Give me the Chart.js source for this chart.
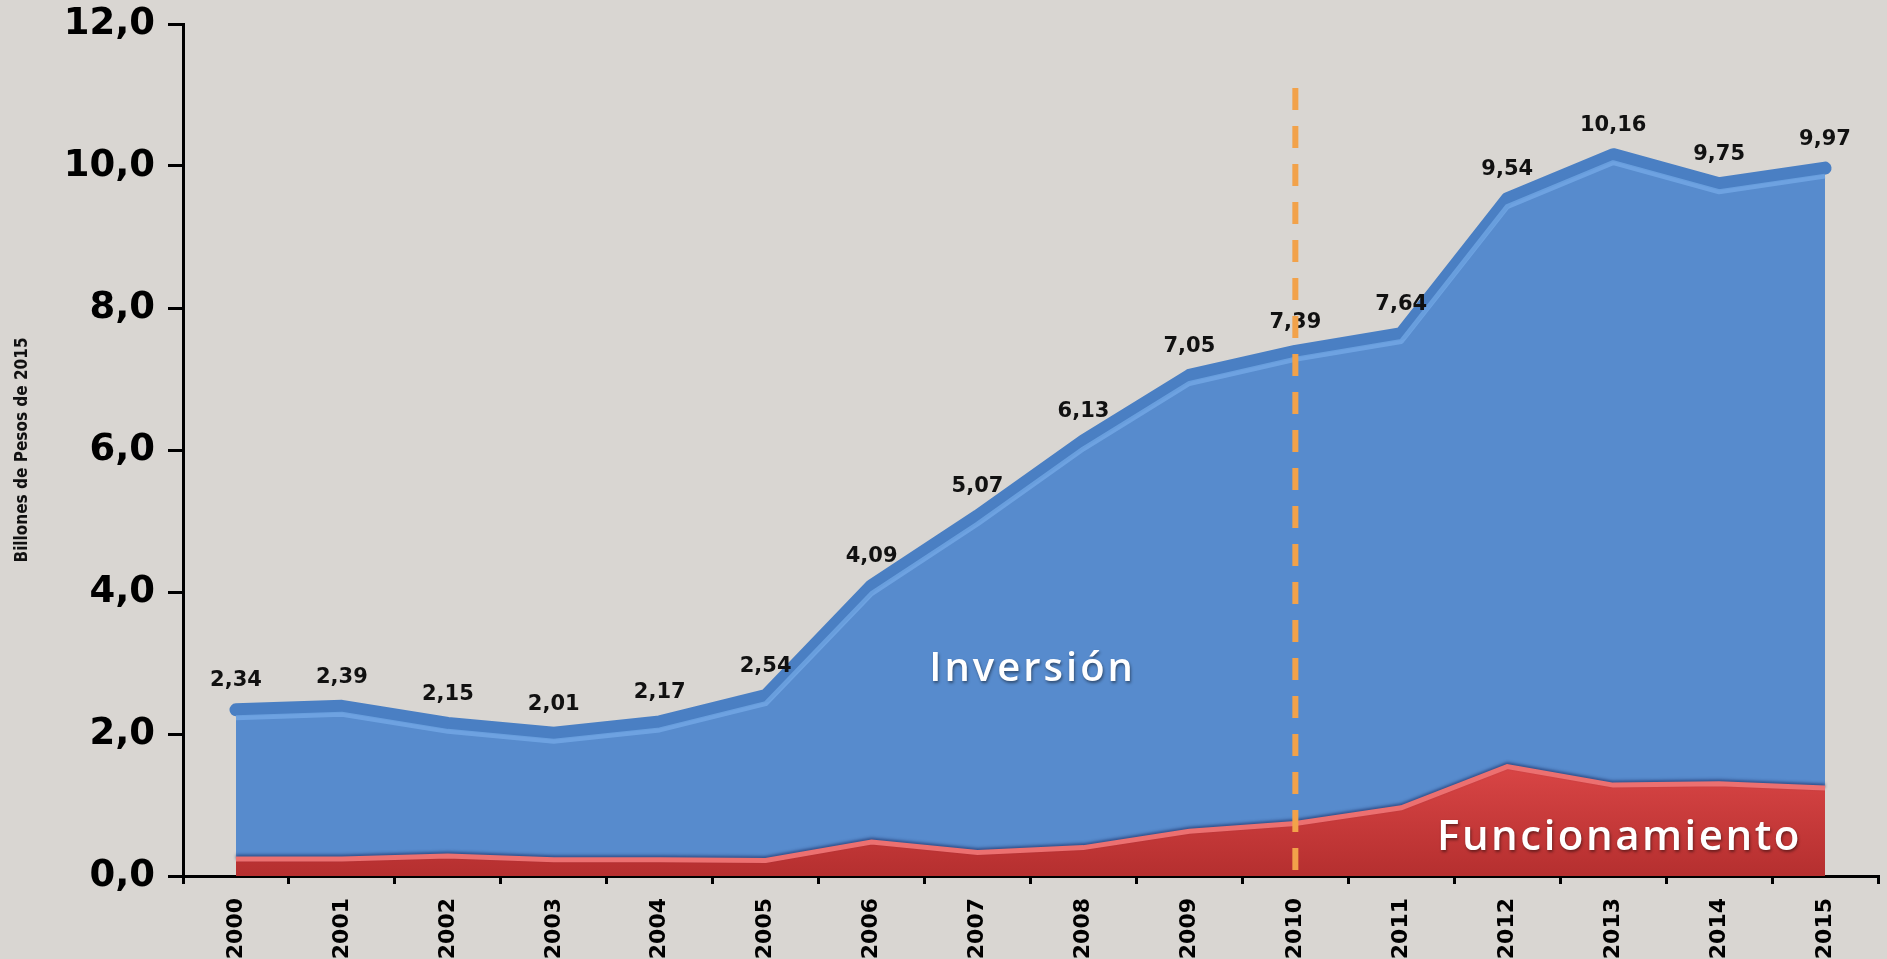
<!DOCTYPE html>
<html lang="es">
<head>
<meta charset="utf-8">
<title>Billones de Pesos de 2015</title>
<script src="https://cdn.jsdelivr.net/npm/chart.js@4.4.1/dist/chart.umd.min.js"></script>
<style>
    html, body { margin: 0; padding: 0; background: #d9d6d2; overflow: hidden; }
    #wrap { position: relative; width: 1887px; height: 959px; }
</style>
</head>
<body>
<div id="wrap"><canvas id="chart"></canvas></div>
<script>
const years = ['2000', '2001', '2002', '2003', '2004', '2005', '2006', '2007',
               '2008', '2009', '2010', '2011', '2012', '2013', '2014', '2015'];
const funcionamiento = [0.24, 0.24, 0.28, 0.23, 0.23, 0.22, 0.48, 0.33,
                        0.40, 0.63, 0.74, 0.96, 1.54, 1.28, 1.30, 1.24];
const inversion = [2.10, 2.15, 1.87, 1.78, 1.94, 2.32, 3.61, 4.74,
                   5.73, 6.42, 6.65, 6.68, 8.00, 8.88, 8.45, 8.73];
const yMin = 0, yMax = 12, yStep = 2;
const markerYear = '2010';
const markerTop = 11.1;

// white names written inside the areas (x = category index, y = value)
const areaNames = [
    { text: 'Inversión', x: 7.52, y: 2.75, size: 40, spacing: 3 },
    { text: 'Funcionamiento', x: 13.06, y: 0.37, size: 42, spacing: 2.5 }
];

const comma = (v, d) => v.toFixed(d).replace('.', ',');
const totals = years.map((_, i) => funcionamiento[i] + inversion[i]);

// red top edge shadow + light strip under the blue top line
const bevel = {
    id: 'bevel',
    beforeDatasetDraw(chart, args) {
        const ctx = chart.ctx;
        ctx.save();
        if (args.index === 0) {
            ctx.shadowColor = 'rgba(25,45,100,0.6)';
            ctx.shadowBlur = 3;
            ctx.shadowOffsetY = -2;
        }
    },
    afterDatasetDraw(chart, args) {
        const ctx = chart.ctx;
        ctx.restore();
        if (args.index !== 1) return;
        const pts = args.meta.data;
        ctx.save();
        ctx.beginPath();
        pts.forEach((p, i) => i ? ctx.lineTo(p.x, p.y + 8) : ctx.moveTo(p.x, p.y + 8));
        ctx.lineWidth = 5;
        ctx.lineJoin = 'round';
        ctx.strokeStyle = 'rgba(125,178,238,0.6)';
        ctx.stroke();
        ctx.restore();
    }
};

const overlay = {
    id: 'overlay',
    afterDatasetsDraw(chart) {
        const ctx = chart.ctx;
        const xs = chart.scales.x, ys = chart.scales.y;
        const top = chart.getDatasetMeta(1).data;

        // totals above the stack
        ctx.save();
        ctx.font = 'bold 21px "DejaVu Sans"';
        ctx.fillStyle = '#111';
        ctx.textAlign = 'center';
        ctx.textBaseline = 'middle';
        top.forEach((p, i) => ctx.fillText(comma(totals[i], 2), p.x, p.y - 29));
        ctx.restore();

        // area names
        areaNames.forEach(a => {
            ctx.save();
            ctx.font = `600 ${a.size}px "Open Sans"`;
            ctx.letterSpacing = a.spacing + 'px';
            ctx.fillStyle = '#fff';
            ctx.textAlign = 'center';
            ctx.textBaseline = 'alphabetic';
            ctx.shadowColor = 'rgba(0,0,0,0.45)';
            ctx.shadowBlur = 3;
            ctx.shadowOffsetX = 1;
            ctx.shadowOffsetY = 2;
            ctx.fillText(a.text, xs.getPixelForValue(a.x), ys.getPixelForValue(a.y));
            ctx.restore();
        });

        // dashed marker at 2010
        const mx = xs.getPixelForValue(years.indexOf(markerYear));
        ctx.save();
        ctx.strokeStyle = '#f2a24a';
        ctx.lineWidth = 6;
        ctx.setLineDash([22, 16]);
        ctx.beginPath();
        ctx.moveTo(mx, ys.getPixelForValue(markerTop));
        ctx.lineTo(mx, ys.getPixelForValue(0));
        ctx.stroke();
        ctx.restore();
    }
};

function redFill(context) {
    const area = context.chart.chartArea;
    if (!area) return '#c83c3c';
    const y0 = context.chart.scales.y.getPixelForValue(0);
    const y1 = context.chart.scales.y.getPixelForValue(1.6);
    const g = context.chart.ctx.createLinearGradient(0, y1, 0, y0);
    g.addColorStop(0, '#da4646');
    g.addColorStop(1, '#b52f2f');
    return g;
}

new Chart(document.getElementById('chart'), {
    type: 'line',
    data: {
        labels: years,
        datasets: [{
            label: 'Funcionamiento',
            data: funcionamiento,
            fill: 'origin',
            backgroundColor: redFill,
            borderColor: '#ec7070',
            borderWidth: 5,
            pointRadius: 0,
            tension: 0
        }, {
            label: 'Inversión',
            data: inversion,
            fill: '-1',
            backgroundColor: '#578bcd',
            borderColor: '#4a7fc3',
            borderWidth: 13,
            borderCapStyle: 'round',
            borderJoinStyle: 'round',
            pointRadius: 0,
            tension: 0
        }]
    },
    options: {
        responsive: true,
        maintainAspectRatio: false,
        animation: false,
        layout: { padding: { top: 24, right: 9, left: 0, bottom: 0 } },
        plugins: {
            legend: { display: false },
            tooltip: { enabled: false }
        },
        scales: {
            x: {
                offset: true,
                grid: { offset: true, drawOnChartArea: false, drawTicks: true, tickLength: 8, color: '#000', lineWidth: 3 },
                border: { color: '#000', width: 3 },
                ticks: {
                    autoSkip: false, minRotation: 90, maxRotation: 90, padding: 14,
                    color: '#000', font: { family: 'DejaVu Sans', weight: 'bold', size: 22 }
                },
                afterFit(scale) { scale.height = 83; }
            },
            y: {
                stacked: true,
                min: yMin, max: yMax,
                grid: { drawOnChartArea: false, drawTicks: true, tickLength: 15, color: '#000', lineWidth: 3 },
                border: { color: '#000', width: 3 },
                ticks: {
                    stepSize: yStep, padding: 13, color: '#000',
                    font: { family: 'DejaVu Sans', weight: 'bold', size: 37 },
                    callback: v => comma(v, 1)
                },
                title: {
                    display: true, text: 'Billones de Pesos de 2015', color: '#111',
                    font: { family: '"DejaVu Sans Condensed", "Liberation Sans", sans-serif', weight: 'bold', size: 17 },
                    padding: { top: 12, bottom: 0 }
                },
                afterFit(scale) {
                    scale.width = 183;
                    scale.paddingTop = 0;
                    scale.paddingBottom = 0;
                }
            }
        }
    },
    plugins: [bevel, overlay]
});
</script>
</body>
</html>
